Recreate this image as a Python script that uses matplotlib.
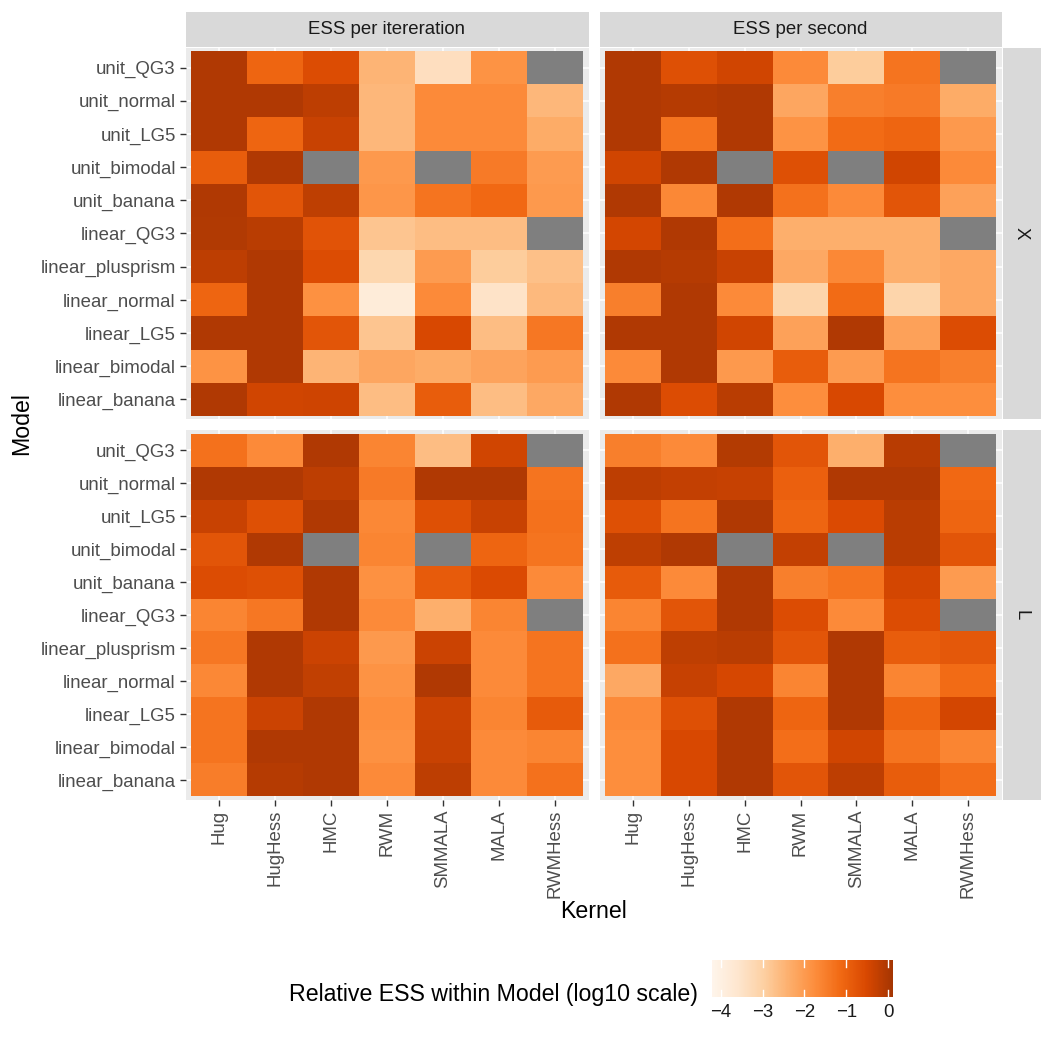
import numpy as np
import matplotlib
matplotlib.use('Agg')
import matplotlib.pyplot as plt
from matplotlib.colors import LinearSegmentedColormap

plt.rcParams['font.family'] = ['Liberation Sans', 'DejaVu Sans']

models = ['unit_QG3', 'unit_normal', 'unit_LG5', 'unit_bimodal', 'unit_banana',
          'linear_QG3', 'linear_plusprism', 'linear_normal', 'linear_LG5',
          'linear_bimodal', 'linear_banana']
kernels = ['Hug', 'HugHess', 'HMC', 'RWM', 'SMMALA', 'MALA', 'RWMHess']
facet_cols = ['ESS per itereration', 'ESS per second']
facet_rows = ['X', 'L']
NA = np.nan

# rows follow `models`, columns follow `kernels` (log10 relative ESS)
ess_iter_X = [
    [0.00, -1.05, -0.60, -2.45, -3.35, -1.85, NA],
    [0.00, 0.00, -0.15, -2.50, -1.70, -1.70, -2.50],
    [0.00, -1.05, -0.30, -2.50, -1.70, -1.70, -2.30],
    [-0.90, 0.00, NA, -1.95, NA, -1.40, -2.00],
    [0.00, -0.75, -0.20, -1.90, -1.30, -1.10, -1.95],
    [-0.03, -0.12, -0.70, -2.75, -2.60, -2.60, NA],
    [-0.18, 0.00, -0.60, -3.15, -2.00, -2.90, -2.65],
    [-1.05, 0.00, -1.80, -3.80, -1.70, -3.50, -2.55],
    [0.00, 0.00, -0.75, -2.75, -0.50, -2.60, -1.35],
    [-1.85, 0.00, -2.45, -2.20, -2.30, -2.15, -2.00],
    [0.00, -0.40, -0.38, -2.60, -0.90, -2.60, -2.25],
]
ess_sec_X = [
    [0.00, -0.65, -0.40, -1.70, -2.90, -1.30, NA],
    [0.00, -0.08, 0.00, -2.20, -1.50, -1.40, -2.30],
    [0.00, -1.30, 0.00, -1.85, -1.15, -1.05, -1.95],
    [-0.40, 0.00, NA, -0.65, NA, -0.40, -1.70],
    [0.00, -1.65, 0.00, -1.25, -1.70, -0.75, -2.10],
    [-0.45, 0.00, -1.20, -2.35, -2.35, -2.35, NA],
    [0.00, -0.08, -0.30, -2.25, -1.65, -2.35, -2.25],
    [-1.50, 0.00, -1.70, -3.10, -1.15, -3.10, -2.25],
    [0.00, 0.00, -0.40, -2.10, 0.00, -2.10, -0.60],
    [-1.70, 0.00, -1.95, -0.90, -2.00, -1.30, -1.50],
    [0.00, -0.60, -0.12, -1.75, -0.50, -1.75, -1.75],
]
ess_iter_L = [
    [-1.25, -1.70, 0.00, -1.60, -2.60, -0.40, NA],
    [0.00, 0.00, -0.15, -1.40, 0.00, 0.00, -1.30],
    [-0.30, -0.65, 0.00, -1.65, -0.65, -0.30, -1.25],
    [-0.75, 0.00, NA, -1.60, NA, -1.05, -1.30],
    [-0.60, -0.65, 0.00, -1.80, -0.85, -0.55, -1.70],
    [-1.60, -1.35, 0.00, -1.70, -2.35, -1.60, NA],
    [-1.35, 0.00, -0.35, -1.95, -0.35, -1.70, -1.30],
    [-1.65, 0.00, -0.22, -1.85, 0.00, -1.70, -1.30],
    [-1.30, -0.35, 0.00, -1.75, -0.35, -1.60, -0.85],
    [-1.30, 0.00, 0.00, -1.80, -0.30, -1.70, -1.60],
    [-1.45, -0.08, 0.00, -1.70, -0.18, -1.70, -1.25],
]
ess_sec_L = [
    [-1.50, -1.70, -0.05, -0.75, -2.35, -0.10, NA],
    [-0.15, -0.25, -0.28, -0.95, 0.00, 0.00, -1.10],
    [-0.65, -1.30, 0.00, -1.05, -0.55, -0.12, -1.05],
    [-0.20, 0.00, NA, -0.25, NA, -0.13, -0.75],
    [-0.85, -1.70, 0.00, -1.50, -1.30, -0.45, -2.00],
    [-1.60, -0.75, 0.00, -0.60, -1.70, -0.60, NA],
    [-1.25, -0.20, -0.12, -0.75, 0.00, -0.90, -0.80],
    [-2.25, -0.28, -0.48, -1.60, 0.00, -1.60, -1.15],
    [-1.70, -0.65, 0.00, -1.05, 0.00, -1.05, -0.45],
    [-1.75, -0.50, 0.00, -1.20, -0.40, -1.30, -1.60],
    [-1.75, -0.50, 0.00, -0.75, -0.15, -0.90, -1.20],
]

panels = [[ess_iter_X, ess_sec_X], [ess_iter_L, ess_sec_L]]

vmin, vmax = -4.2, 0.12
base = plt.get_cmap('Oranges')
cmap = LinearSegmentedColormap.from_list('orng', base(np.linspace(0, 0.875, 256)))
cmap.set_bad('#7f7f7f')

W = H = 1050
fig = plt.figure(figsize=(10.5, 10.5), dpi=100)

def fx(px):
    return px / W

def fy(py):
    return 1 - py / H

col_x = [(185.5, 588.5), (599.5, 1001.5)]
row_y = [(47.7, 419.3), (430.3, 799.7)]
txt_col = '#4d4d4d'
fs_axis = 13.4
fs_title = 16.7

nk, nm = len(kernels), len(models)
for r in range(2):
    for c in range(2):
        x0, x1 = col_x[c]
        y0, y1 = row_y[r]
        ax = fig.add_axes([fx(x0), fy(y1), fx(x1 - x0), (y1 - y0) / H])
        ax.set_facecolor('#ebebeb')
        vals = np.ma.masked_invalid(np.array(panels[r][c], dtype=float))
        ax.pcolormesh(np.arange(nk + 1) + 0.5, np.arange(nm + 1) + 0.5, vals,
                      cmap=cmap, vmin=vmin, vmax=vmax, zorder=2)
        ax.set_xlim(0.4, nk + 0.6)
        ax.set_ylim(nm + 0.6, 0.4)
        ax.set_xticks(np.arange(1, nk + 1))
        ax.set_yticks(np.arange(1, nm + 1))
        ax.grid(True, color='white', lw=1.1, zorder=0)
        ax.set_axisbelow(True)
        for s in ax.spines.values():
            s.set_visible(False)
        ax.tick_params(length=4, width=1, color='#333333', labelcolor=txt_col,
                       labelsize=fs_axis, pad=3)
        if c == 0:
            ax.set_yticklabels(models)
        else:
            ax.tick_params(axis='y', left=False, labelleft=False)
        if r == 1:
            ax.set_xticklabels(kernels, rotation=90)
        else:
            ax.tick_params(axis='x', bottom=False, labelbottom=False)

# top strips
for c in range(2):
    x0, x1 = col_x[c]
    sax = fig.add_axes([fx(x0), fy(47), fx(x1 - x0), 35 / H])
    sax.set_facecolor('#d9d9d9')
    sax.set_xticks([]); sax.set_yticks([])
    for s in sax.spines.values():
        s.set_visible(False)
    sax.text(0.5, 0.5, facet_cols[c], ha='center', va='center',
             fontsize=fs_axis, color='#1a1a1a', transform=sax.transAxes)

# right strips
for r in range(2):
    y0, y1 = row_y[r]
    sax = fig.add_axes([fx(1002.5), fy(y1), fx(38), (y1 - y0) / H])
    sax.set_facecolor('#d9d9d9')
    sax.set_xticks([]); sax.set_yticks([])
    for s in sax.spines.values():
        s.set_visible(False)
    sax.text(0.5, 0.5, facet_rows[r], ha='center', va='center', rotation=-90,
             fontsize=fs_axis, color='#1a1a1a', transform=sax.transAxes)

fig.text(fx(593), fy(912), 'Kernel', ha='center', va='center', fontsize=fs_title)
fig.text(fx(22), fy(424), 'Model', ha='center', va='center', rotation=90,
         fontsize=fs_title)

# colour bar legend
cb_x0, cb_x1, cb_y0, cb_y1 = 712.3, 893.3, 960, 997
cax = fig.add_axes([fx(cb_x0), fy(cb_y1), fx(cb_x1 - cb_x0), (cb_y1 - cb_y0) / H])
grad = np.linspace(vmin, vmax, 300).reshape(1, -1)
cax.imshow(grad, cmap=cmap, vmin=vmin, vmax=vmax, aspect='auto',
           extent=(vmin, vmax, 0, 1))
cax.set_xlim(vmin, vmax)
cax.set_ylim(0, 1)
cb_ticks = [-4, -3, -2, -1, 0]
for t in cb_ticks:
    cax.plot([t, t], [0, 0.2], color='white', lw=1)
    cax.plot([t, t], [0.8, 1], color='white', lw=1)
cax.set_yticks([])
cax.set_xticks(cb_ticks)
cax.set_xticklabels(['\u22124', '\u22123', '\u22122', '\u22121', '0'])
cax.tick_params(axis='x', length=0, labelsize=fs_axis, labelcolor='#1a1a1a', pad=5)
for s in cax.spines.values():
    s.set_visible(False)

fig.text(fx(698), fy(995), 'Relative ESS within Model (log10 scale)', ha='right',
         va='center', fontsize=fs_title)

fig.savefig('out.png', dpi=100, facecolor='white')
